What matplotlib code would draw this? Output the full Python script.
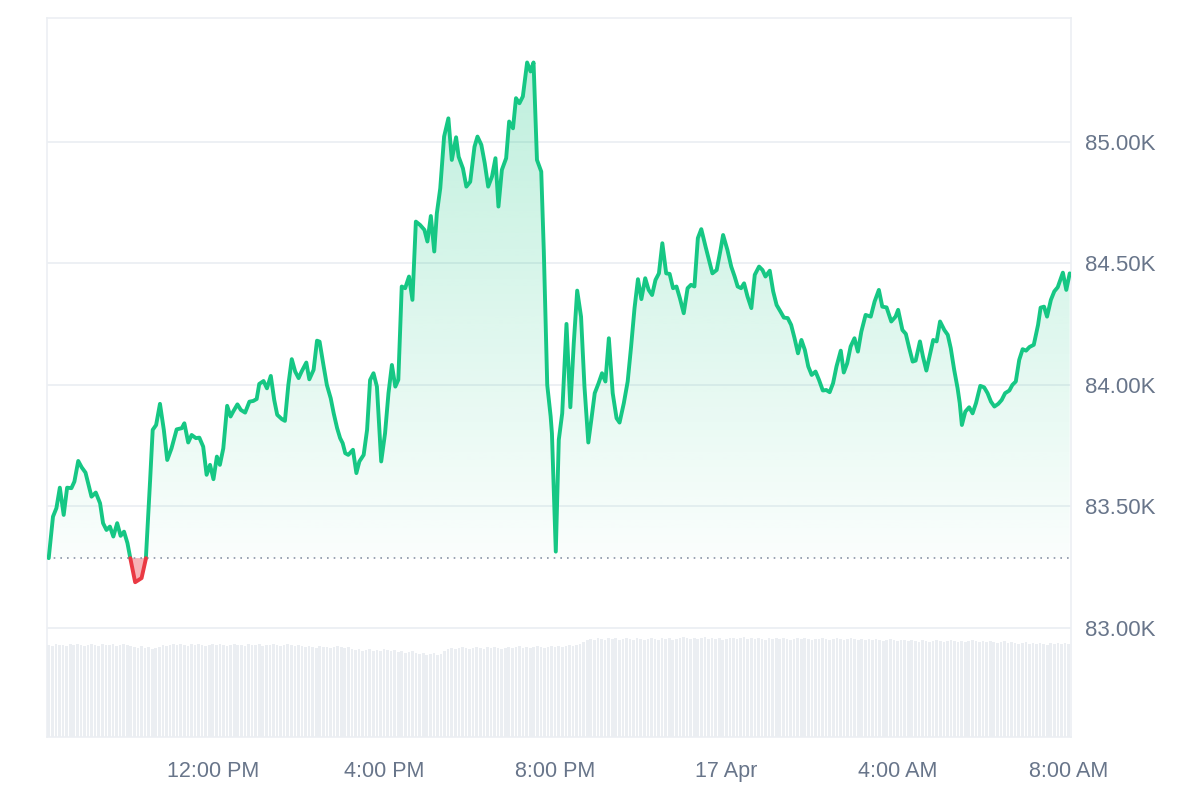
import numpy as np
import matplotlib
matplotlib.use("Agg")
import matplotlib.pyplot as plt
from matplotlib.colors import to_rgb
from matplotlib.path import Path

plt.rcParams['font.family'] = ['Liberation Sans', 'DejaVu Sans']

# price (thousands USD) against hours since 16 Apr 00:00
t_hours = [8.16, 8.26, 8.34, 8.42, 8.51, 8.59, 8.69, 8.76, 8.85, 8.93, 9.02, 9.16, 9.26, 9.36,
           9.43, 9.51, 9.59, 9.67, 9.76, 9.84, 9.92, 10.00, 10.07, 10.18, 10.33, 10.43, 10.53,
           10.59, 10.67, 10.76, 10.85, 10.93, 11.03, 11.15, 11.27, 11.33, 11.42, 11.50, 11.60,
           11.68, 11.77, 11.85, 11.93, 12.01, 12.09, 12.16, 12.24, 12.33, 12.41, 12.47, 12.57,
           12.65, 12.75, 12.85, 12.94, 13.02, 13.08, 13.18, 13.26, 13.35, 13.43, 13.50, 13.61,
           13.68, 13.76, 13.84, 13.92, 14.00, 14.07, 14.18, 14.25, 14.35, 14.43, 14.49, 14.58,
           14.66, 14.75, 14.82, 14.90, 14.97, 15.03, 15.09, 15.16, 15.27, 15.35, 15.42, 15.52,
           15.60, 15.67, 15.75, 15.83, 15.93, 16.02, 16.10, 16.18, 16.26, 16.33, 16.41, 16.49,
           16.58, 16.66, 16.74, 16.84, 16.94, 17.01, 17.09, 17.17, 17.23, 17.31, 17.40, 17.50,
           17.58, 17.68, 17.74, 17.84, 17.92, 18.01, 18.11, 18.18, 18.27, 18.35, 18.43, 18.52,
           18.60, 18.67, 18.75, 18.85, 18.92, 19.01, 19.08, 19.16, 19.24, 19.34, 19.42, 19.49,
           19.57, 19.67, 19.73, 19.81, 19.89, 19.92, 20.01, 20.08, 20.16, 20.26, 20.35, 20.43,
           20.51, 20.60, 20.68, 20.77, 20.84, 20.92, 21.01, 21.09, 21.17, 21.25, 21.34, 21.43,
           21.50, 21.60, 21.69, 21.77, 21.85, 21.93, 22.01, 22.10, 22.18, 22.26, 22.34, 22.42,
           22.50, 22.59, 22.67, 22.75, 22.83, 22.91, 23.00, 23.09, 23.17, 23.25, 23.33, 23.41,
           23.51, 23.59, 23.67, 23.77, 23.86, 23.92, 24.02, 24.11, 24.19, 24.26, 24.34, 24.41,
           24.49, 24.58, 24.66, 24.76, 24.84, 24.91, 25.01, 25.09, 25.17, 25.26, 25.34, 25.43,
           25.51, 25.59, 25.67, 25.75, 25.83, 25.91, 25.99, 26.08, 26.16, 26.25, 26.33, 26.41,
           26.49, 26.57, 26.67, 26.74, 26.82, 26.90, 26.99, 27.07, 27.15, 27.25, 27.37, 27.46,
           27.56, 27.64, 27.74, 27.85, 27.95, 28.01, 28.11, 28.19, 28.27, 28.35, 28.42, 28.52,
           28.59, 28.67, 28.75, 28.83, 28.91, 28.99, 29.09, 29.17, 29.24, 29.32, 29.40, 29.45,
           29.50, 29.58, 29.67, 29.75, 29.83, 29.93, 30.02, 30.10, 30.18, 30.26, 30.35, 30.43,
           30.51, 30.61, 30.68, 30.76, 30.84, 30.92, 31.00, 31.08, 31.18, 31.28, 31.34, 31.42,
           31.49, 31.58, 31.66, 31.74, 31.86, 31.94, 32.02]
price_k = [83.287, 83.458, 83.493, 83.577, 83.465, 83.577, 83.575, 83.602, 83.687, 83.661, 83.639,
           83.540, 83.557, 83.513, 83.431, 83.403, 83.417, 83.376, 83.431, 83.379, 83.396, 83.349,
           83.284, 83.188, 83.205, 83.284, 83.609, 83.815, 83.835, 83.922, 83.815, 83.691, 83.739,
           83.817, 83.822, 83.842, 83.763, 83.794, 83.781, 83.783, 83.746, 83.630, 83.671, 83.612,
           83.705, 83.671, 83.739, 83.914, 83.870, 83.890, 83.920, 83.897, 83.886, 83.931, 83.934,
           83.942, 84.004, 84.016, 83.986, 84.037, 83.938, 83.877, 83.859, 83.852, 84.000, 84.106,
           84.055, 84.028, 84.055, 84.092, 84.023, 84.062, 84.182, 84.178, 84.082, 84.000, 83.945,
           83.883, 83.822, 83.781, 83.760, 83.719, 83.712, 83.733, 83.637, 83.685, 83.712, 83.815,
           84.020, 84.048, 83.993, 83.685, 83.801, 83.966, 84.082, 83.993, 84.021, 84.405, 84.398,
           84.446, 84.350, 84.672, 84.658, 84.638, 84.590, 84.695, 84.549, 84.706, 84.809, 85.022,
           85.097, 84.926, 85.019, 84.939, 84.891, 84.816, 84.836, 84.980, 85.022, 84.988, 84.912,
           84.816, 84.858, 84.933, 84.734, 84.885, 84.933, 85.084, 85.056, 85.180, 85.159, 85.187,
           85.327, 85.290, 85.327, 84.926, 84.878, 84.550, 84.000, 83.870, 83.800, 83.314, 83.774,
           83.883, 84.251, 83.908, 84.171, 84.388, 84.281, 83.993, 83.763, 83.856, 83.966, 84.007,
           84.048, 84.014, 84.192, 83.966, 83.863, 83.845, 83.925, 84.014, 84.158, 84.316, 84.435,
           84.353, 84.439, 84.391, 84.370, 84.432, 84.459, 84.583, 84.459, 84.457, 84.398, 84.405,
           84.357, 84.295, 84.398, 84.412, 84.405, 84.604, 84.641, 84.569, 84.514, 84.459, 84.473,
           84.556, 84.617, 84.556, 84.487, 84.446, 84.405, 84.398, 84.418, 84.364, 84.316, 84.453,
           84.487, 84.473, 84.446, 84.470, 84.385, 84.329, 84.302, 84.277, 84.275, 84.247, 84.192,
           84.130, 84.185, 84.144, 84.076, 84.041, 84.055, 84.021, 83.977, 83.979, 83.970, 84.007,
           84.076, 84.141, 84.051, 84.089, 84.158, 84.192, 84.137, 84.219, 84.288, 84.281, 84.343,
           84.391, 84.322, 84.319, 84.261, 84.281, 84.309, 84.226, 84.210, 84.151, 84.096, 84.100,
           84.179, 84.117, 84.059, 84.123, 84.185, 84.179, 84.261, 84.226, 84.206, 84.151, 84.062,
           83.986, 83.925, 83.835, 83.890, 83.908, 83.883, 83.925, 83.996, 83.990, 83.966, 83.931,
           83.911, 83.922, 83.938, 83.966, 83.977, 84.000, 84.014, 84.103, 84.147, 84.141, 84.156,
           84.165, 84.247, 84.318, 84.322, 84.281, 84.350, 84.385, 84.402, 84.462, 84.391, 84.459]

# 5 minute volume bars (relative units)
volume = [92, 91, 93, 92, 92, 91, 93, 92, 93, 92, 91, 92, 93, 92, 91, 93, 92, 92, 93, 91, 92, 93, 92, 91,
          90, 89, 91, 89, 90, 88, 89, 90, 92, 91, 92, 93, 92, 93, 92, 91, 93, 92, 93, 92, 91, 92, 93, 92,
          93, 92, 91, 92, 93, 92, 92, 91, 93, 92, 92, 93, 91, 92, 92, 93, 92, 91, 92, 93, 92, 91, 92, 91,
          90, 91, 90, 89, 91, 90, 90, 89, 90, 91, 90, 89, 90, 88, 87, 88, 86, 87, 88, 86, 87, 86, 88, 87,
          86, 87, 85, 86, 84, 85, 86, 84, 83, 84, 82, 83, 84, 82, 83, 86, 88, 89, 88, 89, 90, 89, 88, 89,
          90, 89, 88, 90, 89, 90, 89, 88, 89, 90, 89, 90, 91, 89, 90, 89, 90, 91, 90, 89, 90, 91, 90, 91,
          90, 91, 92, 91, 92, 93, 95, 97, 98, 97, 99, 98, 97, 99, 98, 99, 97, 98, 99, 98, 97, 99, 98, 97,
          98, 99, 98, 97, 99, 98, 99, 97, 98, 99, 100, 99, 98, 99, 98, 99, 100, 98, 99, 98, 99, 97, 98, 99,
          99, 98, 99, 100, 98, 99, 98, 99, 98, 97, 99, 98, 99, 98, 99, 98, 97, 98, 99, 98, 99, 98, 97, 98,
          98, 99, 98, 97, 98, 99, 98, 97, 98, 99, 98, 97, 98, 97, 98, 97, 98, 97, 96, 97, 98, 97, 96, 97,
          97, 96, 97, 96, 95, 97, 96, 95, 96, 97, 96, 95, 96, 97, 96, 95, 96, 95, 96, 97, 96, 95, 96, 95,
          96, 95, 94, 95, 96, 94, 95, 94, 93, 94, 95, 93, 94, 93, 94, 93, 92, 94, 93, 94, 93, 94, 93, 94]

x_ticks = [12, 16, 20, 24, 28, 32]
x_labels = ['12:00 PM', '4:00 PM', '8:00 PM', '17 Apr', '4:00 AM', '8:00 AM']
y_ticks = [83.0, 83.5, 84.0, 84.5, 85.0]
y_labels = ['83.00K', '83.50K', '84.00K', '84.50K', '85.00K']

green = '#16c784'
red = '#ea3943'
grey_txt = '#68758a'
grid_c = '#eceff3'

t = np.array(t_hours)
p = np.array(price_k)
base = p[0]

# add the points where the line crosses the opening price
tt, pp = [t[0]], [p[0]]
for i in range(1, len(t)):
    d0, d1 = p[i - 1] - base, p[i] - base
    if d0 * d1 < 0:
        tt.append(t[i - 1] + (t[i] - t[i - 1]) * d0 / (d0 - d1))
        pp.append(base)
    tt.append(t[i])
    pp.append(p[i])
tt, pp = np.array(tt), np.array(pp)

fig = plt.figure(figsize=(12, 8), dpi=100)
ax = fig.add_axes([47 / 1200, 1 - 737 / 800, 1024 / 1200, 719 / 800])
ax2 = ax.twinx()
ax.set_zorder(ax2.get_zorder() + 1)
ax.patch.set_visible(False)

# volume
bar_t = 8.12 + 1 / 24 + np.arange(len(volume)) / 12
ax2.bar(bar_t, volume, width=0.062, color='#ebeef2', linewidth=0)
ax2.set_ylim(0, 720)
ax2.set_yticks([])
for s in ax2.spines.values():
    s.set_visible(False)

xlim = (8.12, 32.05)
ylim = (82.551, 85.51)

# gradient fill above the opening price
up_fill = ax.fill_between(tt, pp, base, where=pp >= base, interpolate=True,
                          color='none', linewidth=0)
n = 256
rgba = np.zeros((n, 1, 4))
rgba[..., :3] = to_rgb(green)
rgba[:, 0, 3] = np.linspace(0.02, 0.28, n)
im = ax.imshow(rgba, extent=[xlim[0], xlim[1], base, 85.35], origin='lower',
               aspect='auto', zorder=1, interpolation='bilinear')
clip = Path.make_compound_path(*up_fill.get_paths())
im.set_clip_path(clip, transform=ax.transData)

ax.fill_between(tt, pp, base, where=pp <= base, interpolate=True,
                color=red, alpha=0.38, linewidth=0, zorder=1)

up = np.ma.masked_where(pp < base, pp)
dn = np.ma.masked_where(pp > base, pp)
ax.plot(tt, up, color=green, lw=2.8, solid_joinstyle='round', solid_capstyle='round', zorder=3)
ax.plot(tt, dn, color=red, lw=2.8, solid_joinstyle='round', solid_capstyle='round', zorder=3)

ax.axhline(base, color='#8a94a6', lw=1.2, ls=(0, (1, 3)), zorder=2)

ax.set_xlim(*xlim)
ax.set_ylim(*ylim)
ax2.set_xlim(*xlim)

ax.yaxis.tick_right()
ax.set_yticks(y_ticks)
ax.set_yticklabels(y_labels)
ax.set_xticks(x_ticks)
ax.set_xticklabels(x_labels)
ax.tick_params(axis='y', length=0, pad=10, labelsize=16, labelcolor=grey_txt)
ax.tick_params(axis='x', length=0, pad=17, labelsize=15.5, labelcolor=grey_txt)
ax.grid(axis='y', color=grid_c, lw=1.3, zorder=0)
ax.set_axisbelow(True)
for s in ax.spines.values():
    s.set_color(grid_c)
    s.set_linewidth(1.2)

fig.savefig('out.png', dpi=100)
